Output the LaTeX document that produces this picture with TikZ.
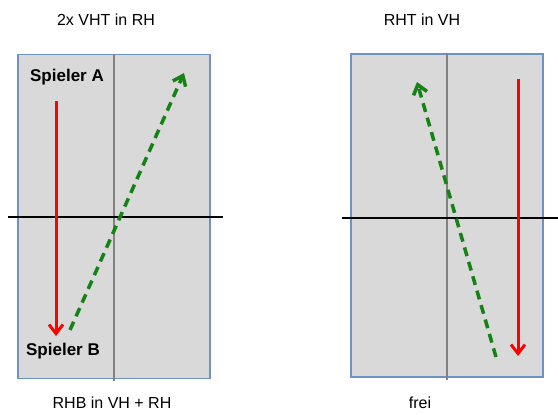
\documentclass[tikz,border=0pt]{standalone}
\usepackage{fontspec}
\setmainfont{Liberation Sans}
\usepackage{tikz}
\usetikzlibrary{
  positioning,
  arrows.meta,
  calc
}
\definecolor{tablebg}{RGB}{217,217,217}
\definecolor{tableborder}{RGB}{110,145,200}
\definecolor{midline}{RGB}{130,130,130}
\definecolor{ballred}{RGB}{255,0,0}
\definecolor{ballgreen}{RGB}{20,130,20}
\tikzset{
  tablebox/.style={
    draw=tableborder, fill=tablebg, line width=1.5pt,
    minimum width=192pt, minimum height=324pt, inner sep=0pt
  },
  midlinestyle/.style={
    draw=midline, line width=1.4pt
  },
  netline/.style={
    draw=black, line width=2.2pt
  },
  redball/.style={
    -{Straight Barb[length=9pt,width=14pt]}, line width=3pt, draw=ballred
  },
  greenball/.style={
    -{Straight Barb[length=9pt,width=14pt]}, line width=3.5pt, draw=ballgreen,
    dash pattern=on 9pt off 6pt
  },
  titlelabel/.style={
    font=\fontsize{16}{19}\selectfont, inner sep=0pt
  },
  playerlabel/.style={
    font=\fontsize{17}{20}\selectfont\bfseries, inner sep=0pt
  }
}

\begin{document}
\begin{tikzpicture}[x=1pt, y=-1pt]
    \useasboundingbox (0,0) rectangle (558,415);

    % left table
    \node[tablebox] (tl) at (114,216.5) {};
    \draw[midlinestyle] (tl.north) -- ($(tl.south)+(0,2)$);
    \coordinate (netlw) at (8,217);
    \coordinate (netle) at (223,217);
    \draw[netline] (netlw) -- (netle);

    % right table
    \node[tablebox, minimum height=323pt] (tr) at (447,215.5) {};
    \draw[midlinestyle] (tr.north) -- ($(tr.south)+(0,2)$);
    \coordinate (netrw) at (342,218);
    \coordinate (netre) at (558,218);
    \draw[netline] (netrw) -- (netre);

    \node[titlelabel] (t1) at (106,20) {2x VHT in RH};
    \node[titlelabel] (t2) at (422,20) {RHT in VH};
    \node[titlelabel] (b1) at (112,403) {RHB in VH + RH};
    \node[titlelabel] (b2) at (420,403) {frei};

    \node[playerlabel] (pa) at (67,77) {Spieler A};
    \node[playerlabel] (pb) at (63,351) {Spieler B};

    \coordinate (r1s) at (56,101);
    \coordinate (r1e) at (56,336);
    \coordinate (g1s) at (70,330);
    \coordinate (g1e) at (184,73);
    \draw[redball] (r1s) -- (r1e);
    \draw[greenball] (g1s) -- (g1e);

    \coordinate (r2s) at (518,79);
    \coordinate (r2e) at (518,356);
    \coordinate (g2s) at (496,357);
    \coordinate (g2e) at (417,82);
    \draw[redball] (r2s) -- (r2e);
    \draw[greenball] (g2s) -- (g2e);

  \end{tikzpicture}
\end{document}
